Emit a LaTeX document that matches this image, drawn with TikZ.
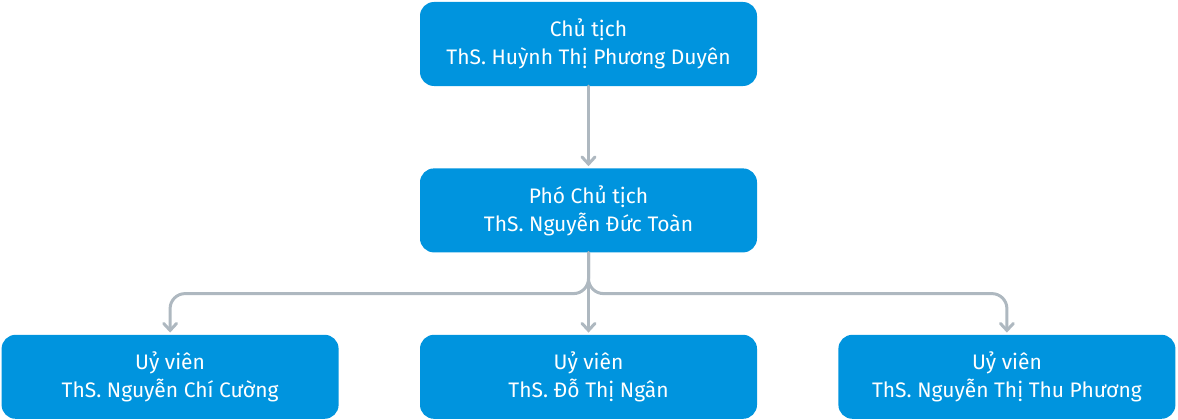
\documentclass[tikz,border=0pt]{standalone}
\usepackage{fontspec}
\setmainfont{Fira Sans}
\usetikzlibrary{positioning,arrows.meta}
\definecolor{boxblue}{HTML}{0094DE}
\definecolor{linegray}{HTML}{AEB8C0}
\tikzset{
  member/.style={draw=none,fill=boxblue,rounded corners=14pt,minimum width=337pt,minimum height=84pt,
    text=white,align=center,font=\fontsize{21}{28}\selectfont,inner sep=0pt},
  link/.style={draw=linegray,line width=3pt,line cap=round,rounded corners=15pt,
    -{Straight Barb[length=7pt,width=13pt,line cap=round]},shorten >=2pt}
}

\begin{document}
\begin{tikzpicture}
  \useasboundingbox (0,0) rectangle (1178pt,-420pt);
  % council
  \node[member] (chair) at (588.5pt,-44pt) {Chủ tịch\\ThS. Huỳnh Thị Phương Duyên};
  \node[member,below=82pt of chair] (vice) {Phó Chủ tịch\\ThS. Nguyễn Đức Toàn};
  \node[member,below=82pt of vice] (memb) {Uỷ viên\\ThS. Đỗ Thị Ngân};
  \node[member,left=81pt of memb] (mema) {Uỷ viên\\ThS. Nguyễn Chí Cường};
  \node[member,right=81pt of memb] (memc) {Uỷ viên\\ThS. Nguyễn Thị Thu Phương};
  \coordinate[below=41pt of vice.south] (bus);
  % links
  \draw[link] (chair) -- (vice);
  \draw[link] (vice) -- (memb);
  \draw[link] (vice.south) -- (bus) -| (mema.north);
  \draw[link] (vice.south) -- (bus) -| (memc.north);
\end{tikzpicture}
\end{document}
